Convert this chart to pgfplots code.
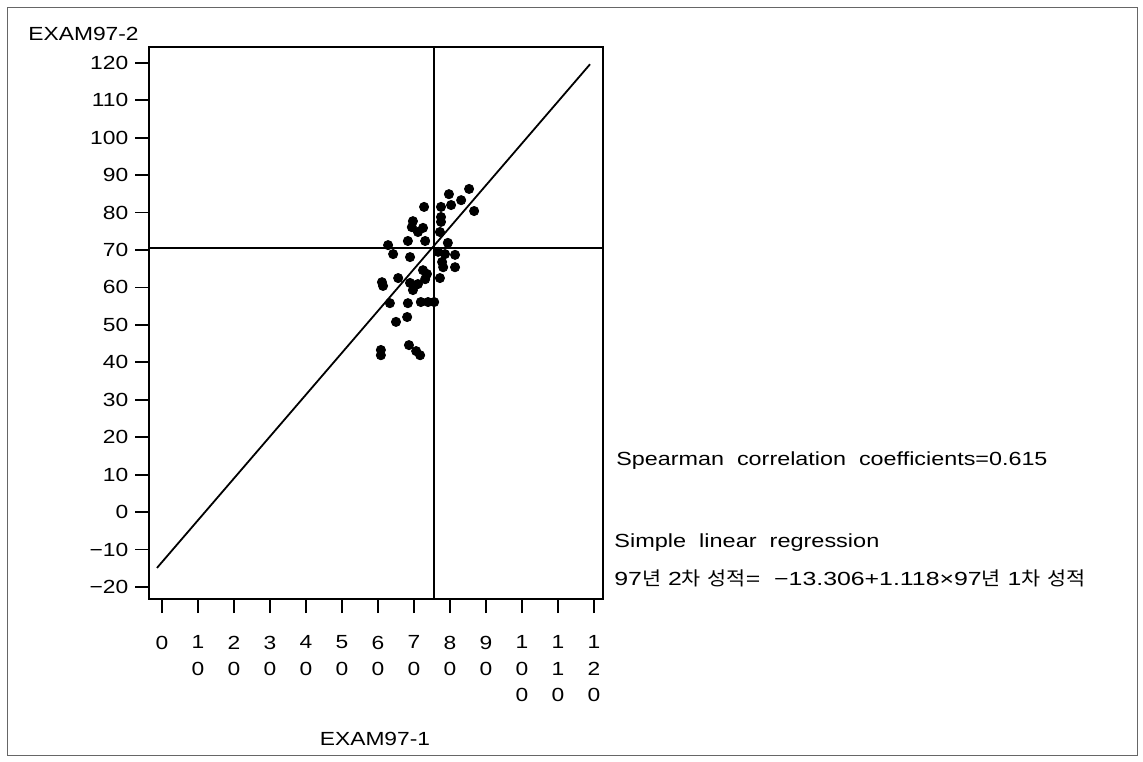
\documentclass[border=0pt]{standalone}
\usepackage{fontspec}
\usepackage{graphicx}
\setmainfont[FakeStretch=1.2]{Liberation Sans}
\newfontfamily\kr[Scale=1.0]{Noto Sans CJK KR}
\usepackage{pgfplots}
\pgfplotsset{compat=1.18}
\pgfplotstableread{
x y
85.3 86.3
79.7 84.9
83.1 83.3
80.3 82.0
77.5 81.5
72.8 81.5
86.7 80.4
77.5 78.8
77.5 77.5
69.7 77.7
69.4 76.1
72.5 75.9
71.1 74.8
77.2 74.8
62.8 71.3
68.3 72.4
73.1 72.4
79.4 71.9
64.2 68.9
68.9 68.1
76.7 69.5
78.6 68.9
81.4 68.7
77.8 66.8
78.1 65.4
81.4 65.4
72.5 64.6
73.6 63.6
65.6 62.5
77.2 62.5
61.1 61.4
61.4 60.4
68.9 61.2
71.1 60.9
69.7 59.3
63.3 55.8
68.3 55.8
71.9 56.1
73.9 56.1
75.6 56.1
68.1 52.1
65.0 50.8
68.6 44.6
70.6 43.0
71.7 41.9
60.8 43.3
60.8 41.9
73.1 62.2
}\scores
\begin{document}
\fontsize{9.5}{12.75}\selectfont
\begin{tikzpicture}
\useasboundingbox (0,0) rectangle (571.5pt,-380.5pt);
\draw[line width=0.5pt, black!60] (3.5pt,-3.5pt) rectangle (568.5pt,-377.5pt);
\begin{axis}[
  at={(74.5pt,-299.5pt)}, anchor=south west,
  scale only axis, width=227pt, height=276pt,
  xmin=-3.61, xmax=122.5, ymin=-23.2, ymax=124.2,
  axis line style={line width=0.9pt},
  tick style={line width=0.9pt, black},
  tick align=outside, tick pos=left,
  major tick length=7pt,
  xtick={0,10,...,120},
  xticklabels={0,{1\\0},{2\\0},{3\\0},{4\\0},{5\\0},{6\\0},{7\\0},{8\\0},{9\\0},{1\\0\\0},{1\\1\\0},{1\\2\\0}},
  xticklabel style={align=center, font=\fontsize{9.5}{13.2}\selectfont, yshift=-8pt},
  ytick={-20,-10,...,120},
  yticklabels={−20,−10,0,10,20,30,40,50,60,70,80,90,100,110,120},
  yticklabel style={font=\fontsize{9.5}{12.75}\selectfont},
]
\addplot[line width=0.9pt, black] coordinates {(-1.4,-14.9) (118.9,119.6)};
\addplot[line width=0.8pt, black] coordinates {(75.5,-23.2) (75.5,124.2)};
\addplot[line width=0.8pt, black] coordinates {(-3.61,70.5) (122.5,70.5)};
\addplot[only marks, mark=*, mark size=2.3pt, black] table[x=x,y=y] {\scores};
\end{axis}
\node[anchor=west, inner sep=0pt] at (14pt,-17pt) {EXAM97-2};
\node[anchor=center, inner sep=0pt] at (187.5pt,-369.5pt) {EXAM97-1};
\node[anchor=west, inner sep=0pt] at (308pt,-230.5pt) {\scalebox{1.024}[1]{Spearman\ \ correlation\ \ coefficients=0.615}};
\node[anchor=west, inner sep=0pt] at (307pt,-271.5pt) {\scalebox{1.03}[1]{Simple\ \ linear\ \ regression}};
\node[anchor=west, inner sep=0pt] at (307pt,-289pt) {\scalebox{1.09}[1]{97{\kr 년} 2{\kr 차} {\kr 성적}=\ \ −13.306+1.118×97{\kr 년} 1{\kr 차} {\kr 성적}}};
\end{tikzpicture}
\end{document}
